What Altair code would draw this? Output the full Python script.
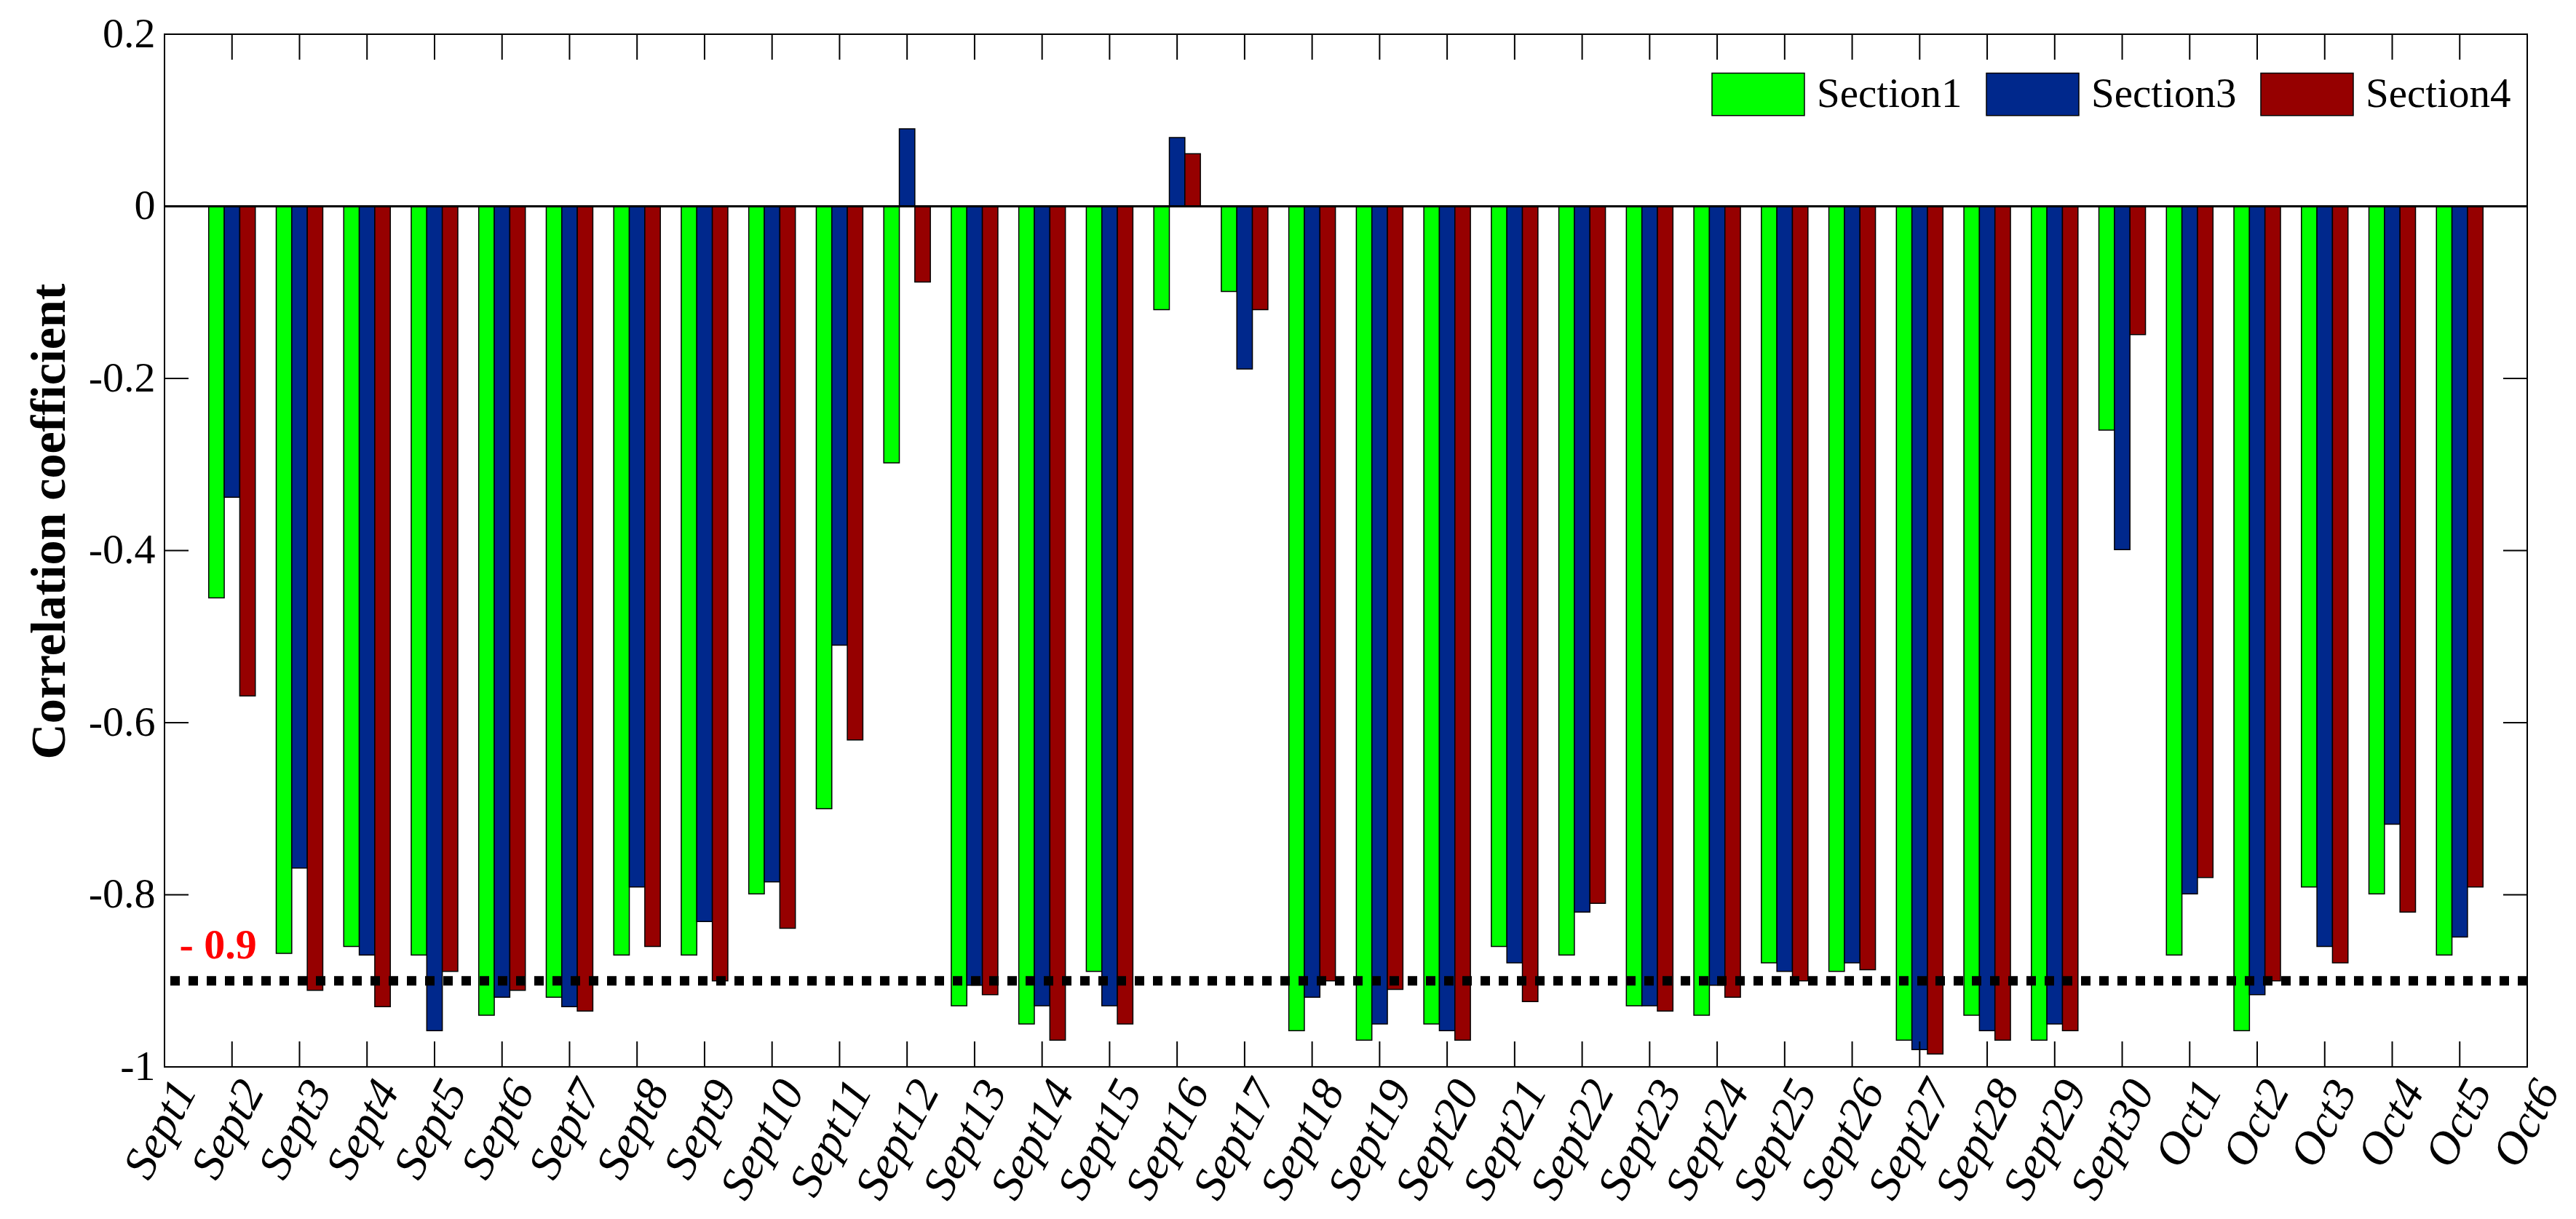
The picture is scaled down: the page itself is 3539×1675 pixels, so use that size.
import altair as alt
import pandas as pd

# ---------------- data ----------------
dates = ["Sept%d" % d for d in range(1, 31)] + ["Oct%d" % d for d in range(1, 7)]
# bars exist for Sept2 .. Oct5 (positions 1..34)
bar_dates = dates[1:35]
series = ["Section1", "Section3", "Section4"]
colors = ["#00FF00", "#00288C", "#960000"]

section1 = [-0.455, -0.868, -0.860, -0.870, -0.940, -0.919, -0.870, -0.870, -0.799, -0.700,
            -0.298, -0.929, -0.950, -0.889, -0.120, -0.099, -0.958, -0.969, -0.950, -0.860,
            -0.870, -0.929, -0.940, -0.879, -0.889, -0.969, -0.940, -0.969, -0.260, -0.870,
            -0.958, -0.791, -0.799, -0.870]
section3 = [-0.338, -0.769, -0.870, -0.958, -0.919, -0.930, -0.791, -0.831, -0.785, -0.510,
            0.090, -0.905, -0.929, -0.929, 0.080, -0.189, -0.919, -0.950, -0.958, -0.879,
            -0.820, -0.929, -0.905, -0.889, -0.879, -0.980, -0.958, -0.950, -0.399, -0.799,
            -0.916, -0.860, -0.718, -0.849]
section4 = [-0.569, -0.911, -0.930, -0.889, -0.911, -0.935, -0.860, -0.900, -0.839, -0.620,
            -0.088, -0.916, -0.969, -0.950, 0.061, -0.120, -0.900, -0.910, -0.969, -0.924,
            -0.810, -0.935, -0.919, -0.900, -0.887, -0.985, -0.969, -0.958, -0.149, -0.780,
            -0.900, -0.879, -0.820, -0.791]

y_ticks = [0.2, 0, -0.2, -0.4, -0.6, -0.8, -1]
threshold = -0.9

# ---------------- layout constants ----------------
W, H = 3246, 1419
GROUP = 0.69
BW = GROUP / 3
FONT = "Liberation Serif"

rows = []
for k, (name, vals) in enumerate(zip(series, [section1, section3, section4])):
    for i, (d, v) in enumerate(zip(bar_dates, vals), start=1):
        rows.append({"date": d, "pos": i, "series": name, "k": k, "value": v})
df = pd.DataFrame(rows)

xscale = alt.Scale(domain=[0, len(dates) - 1], nice=False, zero=False)
yscale = alt.Scale(domain=[-1, 0.2], nice=False, zero=False)

label_expr = "[" + ",".join("'%s'" % d for d in dates) + "][datum.value]"

bars = alt.Chart(df).mark_bar(stroke="black", strokeWidth=1.5).transform_calculate(
    x0="datum.pos - %f + datum.k * %f" % (GROUP / 2, BW),
    x1="datum.pos - %f + (datum.k + 1) * %f" % (GROUP / 2, BW),
).encode(
    x=alt.X("x0:Q", scale=xscale, title=None,
            axis=alt.Axis(values=list(range(len(dates))), labelExpr=label_expr,
                          labelAngle=-62, labelAlign="right", labelBaseline="top",
                          labelPadding=8, labelFont=FONT, labelFontSize=64,
                          labelFontStyle="italic", labelColor="black",
                          labelOverlap=False, labelBound=False, labelFlush=False,
                          ticks=False, domain=False, grid=False)),
    x2="x1:Q",
    y=alt.Y("value:Q", scale=yscale,
            axis=alt.Axis(values=y_ticks,
                          labelExpr="datum.value == 0 ? '0' : toString(round(datum.value * 10) / 10)",
                          labelFont=FONT, labelFontSize=58, labelPadding=13, labelColor="black",
                          labelFlush=False, labelOverlap=False,
                          ticks=False, domain=False, grid=False,
                          title="Correlation coefficient", titleFont=FONT, titleFontSize=68,
                          titleFontWeight="bold", titleColor="black",
                          titleX=-158, titleY=669, titleAlign="center", titleBaseline="middle")),
    y2=alt.datum(0),
    color=alt.Color("series:N", scale=alt.Scale(domain=series, range=colors),
                    legend=alt.Legend(title=None, orient="none", direction="horizontal",
                                      legendX=2125, legendY=18,
                                      symbolType="M-1,-0.46L1,-0.46L1,0.46L-1,0.46Z",
                                      symbolSize=16129, symbolStrokeColor="black",
                                      symbolStrokeWidth=1.5, symbolOpacity=1,
                                      labelFont=FONT, labelFontSize=57, labelColor="black",
                                      labelLimit=0,
                                      labelOffset=16, columnPadding=30, padding=0)),
)

zero_line = alt.Chart(df).mark_rule(color="black", strokeWidth=2).encode(y=alt.datum(0))

thr = pd.DataFrame({"v": [threshold], "label": ["- 0.9"], "xpos": [0.22]})
dotted = alt.Chart(thr).mark_rule(color="black", strokeWidth=13, strokeDash=[13, 12],
                                  strokeCap="butt").encode(y=alt.Y("v:Q", scale=yscale))
thr_text = alt.Chart(thr).mark_text(color="#FF0000", font=FONT, fontSize=58, fontWeight="bold",
                                    align="left", baseline="alphabetic", dy=-31).encode(
    x=alt.X("xpos:Q", scale=xscale, title=None),
    y=alt.Y("v:Q", scale=yscale),
    text="label:N",
)

xt = pd.DataFrame({"pos": list(range(1, len(dates) - 1))})
yt = pd.DataFrame({"v": y_ticks[1:-1]})
tick_top = alt.Chart(xt).mark_rule(color="black", strokeWidth=2).encode(
    x=alt.X("pos:Q", scale=xscale, title=None), y=alt.value(0), y2=alt.value(35))
tick_bot = alt.Chart(xt).mark_rule(color="black", strokeWidth=2).encode(
    x=alt.X("pos:Q", scale=xscale, title=None), y=alt.value(H), y2=alt.value(H - 35))
tick_left = alt.Chart(yt).mark_rule(color="black", strokeWidth=2).encode(
    y=alt.Y("v:Q", scale=yscale), x=alt.value(0), x2=alt.value(33))
tick_right = alt.Chart(yt).mark_rule(color="black", strokeWidth=2).encode(
    y=alt.Y("v:Q", scale=yscale), x=alt.value(W), x2=alt.value(W - 33))

chart = alt.layer(bars, zero_line, dotted, thr_text, tick_top, tick_bot, tick_left, tick_right).properties(
    width=W, height=H,
    autosize=alt.AutoSizeParams(type="none"),
    padding={"left": 218, "top": 39, "right": 59, "bottom": 201},
    background="white",
).configure_view(stroke="black", strokeWidth=2)

chart.save("out.html", embed_options={"renderer": "svg", "actions": False})
